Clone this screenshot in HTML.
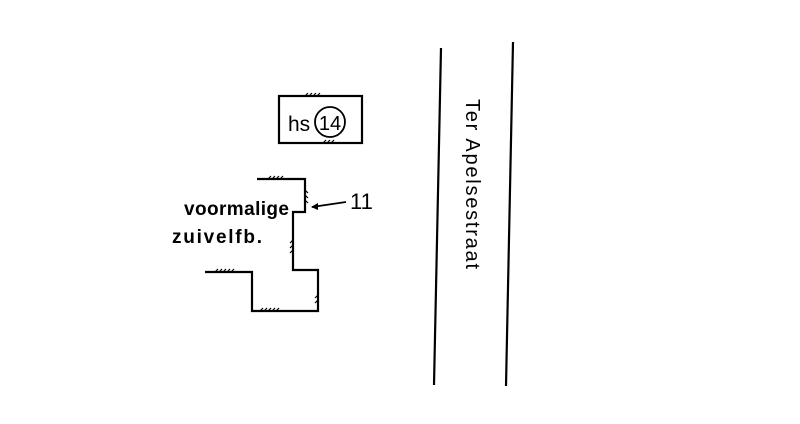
<!DOCTYPE html>
<html><head><meta charset="utf-8"><style>
html,body{margin:0;padding:0;background:#fff;width:800px;height:424px;overflow:hidden}
text{font-family:"Liberation Sans",sans-serif;fill:#000}
</style></head><body>
<svg width="800" height="424" viewBox="0 0 800 424" xmlns="http://www.w3.org/2000/svg">
<g stroke="#000" fill="none" stroke-width="2.2">
<line x1="441" y1="48" x2="434" y2="385"/>
<line x1="513" y1="42" x2="506" y2="386"/>
<rect x="279" y="96" width="83" height="47"/>
<circle cx="330" cy="122" r="15" stroke-width="1.8"/>
<polyline points="257,179 305,179 305,212 293,212 293,270 318,270 318,311 252,311 252,272 205,272"/>
<line x1="312" y1="207" x2="346" y2="202" stroke-width="1.8"/>
</g>
<g stroke="#000" stroke-width="1.2">
<path d="M305,96 l3,-3 M309,96 l3,-3 M313,96 l3,-3 M317,96 l3,-3"/>
<path d="M323,143 l3,-3 M327,143 l3,-3 M331,143 l3,-3"/>
<path d="M268,179 l3,-3 M272,179 l3,-3 M276,179 l3,-3 M280,179 l3,-3"/>
<path d="M215,272 l3,-3 M219,272 l3,-3 M223,272 l3,-3 M227,272 l3,-3 M231,272 l3,-3"/>
<path d="M260,311 l3,-3 M264,311 l3,-3 M268,311 l3,-3 M272,311 l3,-3 M276,311 l3,-3"/>
<path d="M305,190 l3,3 M305,195 l3,3 M305,200 l3,3 M293,240 l-3,3 M293,245 l-3,3 M293,250 l-3,3 M318,295 l-3,3 M318,300 l-3,3"/>
</g>
<polygon points="311,207 318,203 318,210" fill="#000"/>
<text x="288" y="131" font-size="21">hs</text>
<text x="330" y="130" font-size="20" text-anchor="middle">14</text>
<text x="184" y="215" font-size="19" textLength="105" font-weight="bold">voormalige</text>
<text x="172" y="243" font-size="19" textLength="90" font-weight="bold">zuivelfb.</text>
<text x="350" y="209" font-size="22">11</text>
<text x="0" y="0" font-size="20" transform="translate(466,99) rotate(90)" textLength="170">Ter Apelsestraat</text>
</svg>
</body></html>
